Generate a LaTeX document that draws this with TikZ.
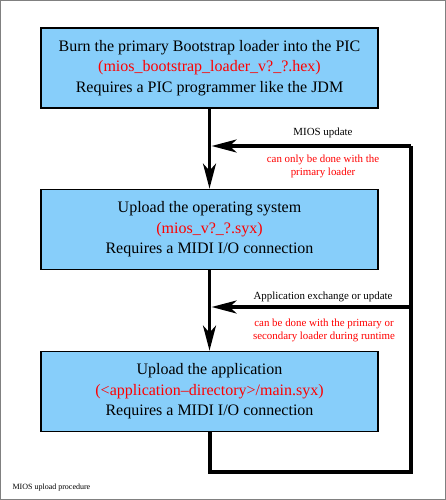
\documentclass[tikz,border=0pt]{standalone}
\usepackage{fontspec}
\setmainfont{Liberation Serif}
\usetikzlibrary{arrows.meta}
\definecolor{boxblue}{HTML}{87CEFA}
\begin{document}
\begin{tikzpicture}[x=1pt, y=-1pt,
	stepbox/.style={draw=black, line width=1.8pt, fill=boxblue, minimum width=337pt, minimum height=80pt, align=center, font=\fontsize{16}{20.5}\selectfont},
	flow/.style={line width=3.2pt, -{Stealth[length=25pt, width=13pt, inset=7pt]}},
	note/.style={font=\fontsize{10.9}{13}\selectfont, align=center},
	warn/.style={note, text=red}]
	\useasboundingbox (0,0) rectangle (446,500);
	\draw[gray, line width=1pt] (0.5,0.5) rectangle (445.5,499.5);
	% the three steps
	\node[stepbox] (burn) at (209.5,68) {Burn the primary Bootstrap loader into the PIC\\ \textcolor{red}{(mios\_bootstrap\_loader\_v?\_?.hex)}\\ Requires a PIC programmer like the JDM};
	\node[stepbox] (os) at (209.5,229.5) {Upload the operating system\\ \textcolor{red}{(mios\_v?\_?.syx)}\\ Requires a MIDI I/O connection};
	\node[stepbox] (app) at (209.5,391.5) {Upload the application\\ \textcolor{red}{(<application{\textendash}directory>/main.syx)}\\ Requires a MIDI I/O connection};
	\draw[flow] (burn) -- (os);
	\draw[flow] (os) -- (app);
	% update loop
	\coordinate (down) at (210,472);
	\coordinate (corner) at (411,472);
	\coordinate (top) at (411,146);
	\coordinate (topin) at (211.6,146);
	\coordinate (mid) at (411,307);
	\coordinate (midin) at (211.6,307);
	\draw[line width=3.2pt, line join=miter] (app.south -| down) -- (down) -- (corner) -- (top);
	\draw[flow] (top) -- (topin);
	\draw[flow] (mid) -- (midin);
	\node[note] (upd) at (323,133) {MIOS update};
	\node[warn] (upd-note) at (323,166) {can only be done with the\\ primary loader};
	\node[note] (exch) at (323,297) {Application exchange or update};
	\node[warn] (exch-note) at (324,330.5) {can be done with the primary or\\ secondary loader during runtime};
	\node[font=\fontsize{8}{10}\selectfont, anchor=west] (caption) at (9,488) {MIOS upload procedure};
\end{tikzpicture}
\end{document}
